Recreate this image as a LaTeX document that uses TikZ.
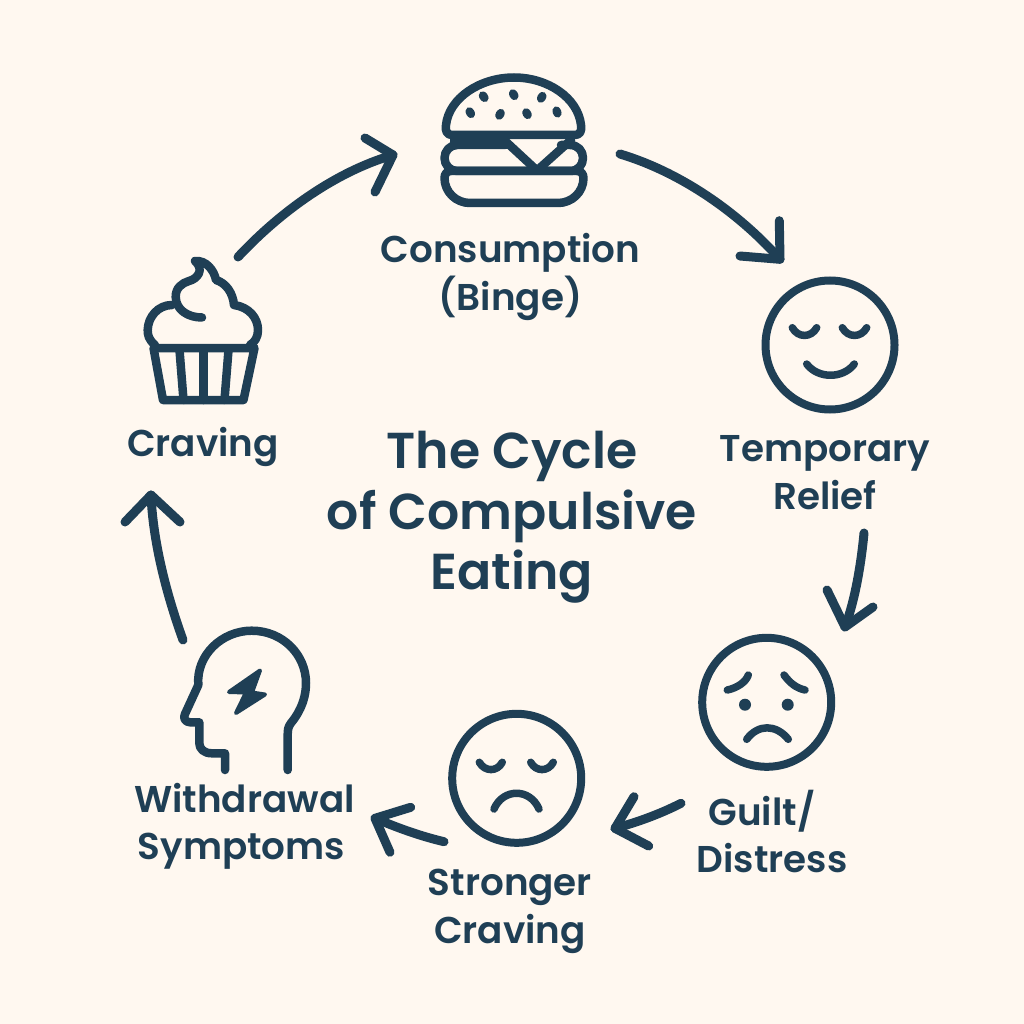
\documentclass[tikz,border=0pt]{standalone}
\usepackage{fontspec}
\newfontfamily\labfont{Poppins SemiBold}
\newfontfamily\titfont{Poppins SemiBold}
\definecolor{ink}{HTML}{1F3F55}
\definecolor{paper}{HTML}{FFF8F0}
\tikzset{
  icon/.style={draw=ink,line width=8.5pt,line cap=round,line join=round},
  iconthin/.style={draw=ink,line width=7.5pt,line cap=round,line join=round},
  arrowline/.style={draw=ink,line width=9pt,line cap=round,line join=round},
  face/.style={circle,draw=ink,line width=8pt,minimum size=129pt,inner sep=0pt},
  lab/.style={text=ink,align=center,inner sep=0pt,font=\labfont\fontsize{37.3}{47.5}\selectfont},
  tit/.style={text=ink,align=center,inner sep=0pt,font=\titfont\fontsize{50.5}{60.5}\selectfont},
  dot/.style={fill=ink,circle,minimum size=12pt,inner sep=0pt},
}
\begin{document}
\begin{tikzpicture}[x=1pt,y=-1pt]
\fill[paper] (0,0) rectangle (1024,1024);
\useasboundingbox (0,0) rectangle (1024,1024);
% burger
\draw[icon] (452,135) .. controls (447,135) and (445,131) .. (446,125)
  .. controls (449,98) and (480,77.5) .. (514,77.5)
  .. controls (548,77.5) and (578,98) .. (581,125)
  .. controls (582,131) and (580,135) .. (575,135) -- cycle;
\foreach \x/\y/\a in {483.7/96.7/35,513.7/94.7/30,541.7/97.3/-30,470.3/112.7/30,500/114.3/-30,527/113.7/30,557/112/20}
  \fill[ink,rotate around={\a:(\x,\y)}] (\x,\y) ellipse [x radius=4.3pt,y radius=5.8pt];
\draw[icon] (561,145) -- (570,145) .. controls (578,145) and (583,151) .. (583,158)
  .. controls (583,165) and (578,171) .. (570,171) -- (457,171)
  .. controls (450,171) and (444.5,165) .. (444.5,158)
  .. controls (444.5,151) and (450,145) .. (457,145) -- (505,145);
\draw[icon] (444.5,178) .. controls (444.5,174) and (447,171) .. (451,171) -- (577,171) .. controls (581,171) and (583.5,174) .. (583.5,178)
  .. controls (583.5,192) and (572,203) .. (558,203) -- (470,203) .. controls (456,203) and (444.5,192) .. (444.5,178) -- cycle;
\fill[ink] (450,135) rectangle (509,149);
\draw[icon] (503,139) -- (537,170.5) -- (571,140);
% cupcake
\draw[icon] (153.5,348) -- (163,400) -- (243.5,400) -- (254.5,348) -- cycle;
\draw[icon] (179.5,350) -- (183.5,400);
\draw[icon] (203.5,350) -- (203.5,400);
\draw[icon] (228.5,350) -- (224.5,400);
\draw[icon] (155,345) .. controls (149,340) and (147.5,335) .. (147.7,330)
  .. controls (148,317) and (158,305) .. (172,305);
\draw[icon] (202,317.5) .. controls (188,317.5) and (176,310) .. (175.7,297)
  .. controls (175.5,288) and (182,283) .. (189,281)
  .. controls (197,279) and (205,270) .. (195,261)
  .. controls (206,260) and (214,270) .. (216,280)
  .. controls (226,283) and (233,293) .. (234,305)
  .. controls (249,307) and (258,318) .. (258,330)
  .. controls (258,337) and (255,342) .. (250,345);
% head
\draw[icon] (225,770) -- (225,753.3) -- (212,753.3) .. controls (204,753.3) and (199.3,749) .. (199.3,743)
  -- (199.3,722.3) -- (190,722.3) .. controls (185,722) and (183,718) .. (185,714)
  -- (198.3,685) .. controls (196,655) and (222,630.7) .. (251.7,630.7)
  .. controls (283,630.7) and (306,655) .. (306,683)
  .. controls (306,703) and (296,717) .. (291,723) .. controls (288,727) and (287.7,730) .. (287.7,735)
  -- (287.7,770);
\filldraw[ink,line width=4pt,line join=round] (260,670.5) -- (229,692) -- (246,692.5) -- (236,713) -- (265,694.5) -- (252,692.5) -- cycle;
% faces
\node[face] (relief) at (830,345) {};
\draw[iconthin] (792.3,327.7) .. controls (798,338) and (811,338) .. (816.7,327.7);
\draw[iconthin] (842.3,327.7) .. controls (848,338) and (861,338) .. (866.7,327.7);
\draw[iconthin] (806.7,364) .. controls (818,379) and (843,379) .. (854.3,364);
\node[face] (guilt) at (766.7,702.3) {};
\draw[iconthin] (727.3,690) .. controls (737,688) and (746,682) .. (748.3,675);
\draw[iconthin] (784,675) .. controls (790,683) and (796,688) .. (805,690);
\node[dot] (gl) at (745,704.7) {};
\node[dot] (gr) at (787.7,704.7) {};
\draw[iconthin] (746.7,739.3) .. controls (758,724) and (776,724) .. (788.3,739.3);
\node[face] (strong) at (516.7,778.3) {};
\draw[iconthin] (479.3,762.3) .. controls (485,772) and (497,772) .. (502.3,762.3);
\draw[iconthin] (530.7,762.3) .. controls (536,772) and (548,772) .. (553.3,762.3);
\draw[iconthin] (494,809) .. controls (503,788) and (530,788) .. (539,809);
% arrows
\coordinate (a1s) at (238,257); \coordinate (a1e) at (393,155); \coordinate (a1l) at (365,138); \coordinate (a1r) at (375,192);
\draw[arrowline] (a1s) .. controls (280,212) and (335,172) .. (a1e);
\draw[arrowline] (a1l) -- (a1e) -- (a1r);
\coordinate (a2s) at (620,154); \coordinate (a2e) at (780,259.3); \coordinate (a2l) at (779.3,220.7); \coordinate (a2r) at (740,256);
\draw[arrowline] (a2s) .. controls (680,172) and (738,212) .. (a2e);
\draw[arrowline] (a2l) -- (a2e) -- (a2r);
\coordinate (a3s) at (864,533); \coordinate (a3e) at (845,627); \coordinate (a3l) at (873,607); \coordinate (a3r) at (827,590);
\draw[arrowline] (a3s) .. controls (861,565) and (855,600) .. (a3e);
\draw[arrowline] (a3l) -- (a3e) -- (a3r);
\coordinate (a4s) at (681,803.3); \coordinate (a4e) at (615,828.3); \coordinate (a4l) at (634,796.7); \coordinate (a4r) at (648.7,846);
\draw[arrowline] (a4s) .. controls (660,814) and (638,822) .. (a4e);
\draw[arrowline] (a4l) -- (a4e) -- (a4r);
\coordinate (a5s) at (444,841.7); \coordinate (a5e) at (375,818.3); \coordinate (a5l) at (410.7,807.3); \coordinate (a5r) at (390,852.3);
\draw[arrowline] (a5s) .. controls (420,836) and (398,828) .. (a5e);
\draw[arrowline] (a5l) -- (a5e) -- (a5r);
\coordinate (a6s) at (183,640); \coordinate (a6e) at (151,495); \coordinate (a6l) at (125,522); \coordinate (a6r) at (180,522);
\draw[arrowline] (a6s) .. controls (165,590) and (153,540) .. (a6e);
\draw[arrowline] (a6l) -- (a6e) -- (a6r);
% text
\node[lab] (tcons) at (510.5,277) {Consumption\\(Binge)};
\node[lab] (trel) at (825,472.5) {Temporary\\Relief};
\node[lab] (tcrav) at (203,447) {Craving};
\node[lab] (twith) at (244.5,826.5) {Withdrawal\\\hspace*{-6pt}Symptoms};
\node[lab] (tguilt) at (772,831.5) {\hspace*{-20pt}Guilt/\\Distress};
\node[lab] (tstr) at (510,911.5) {Stronger\\Craving};
\node[tit] (ttl) at (512,517.5) {The Cycle\\of Compulsive\\Eating};
\end{tikzpicture}
\end{document}
